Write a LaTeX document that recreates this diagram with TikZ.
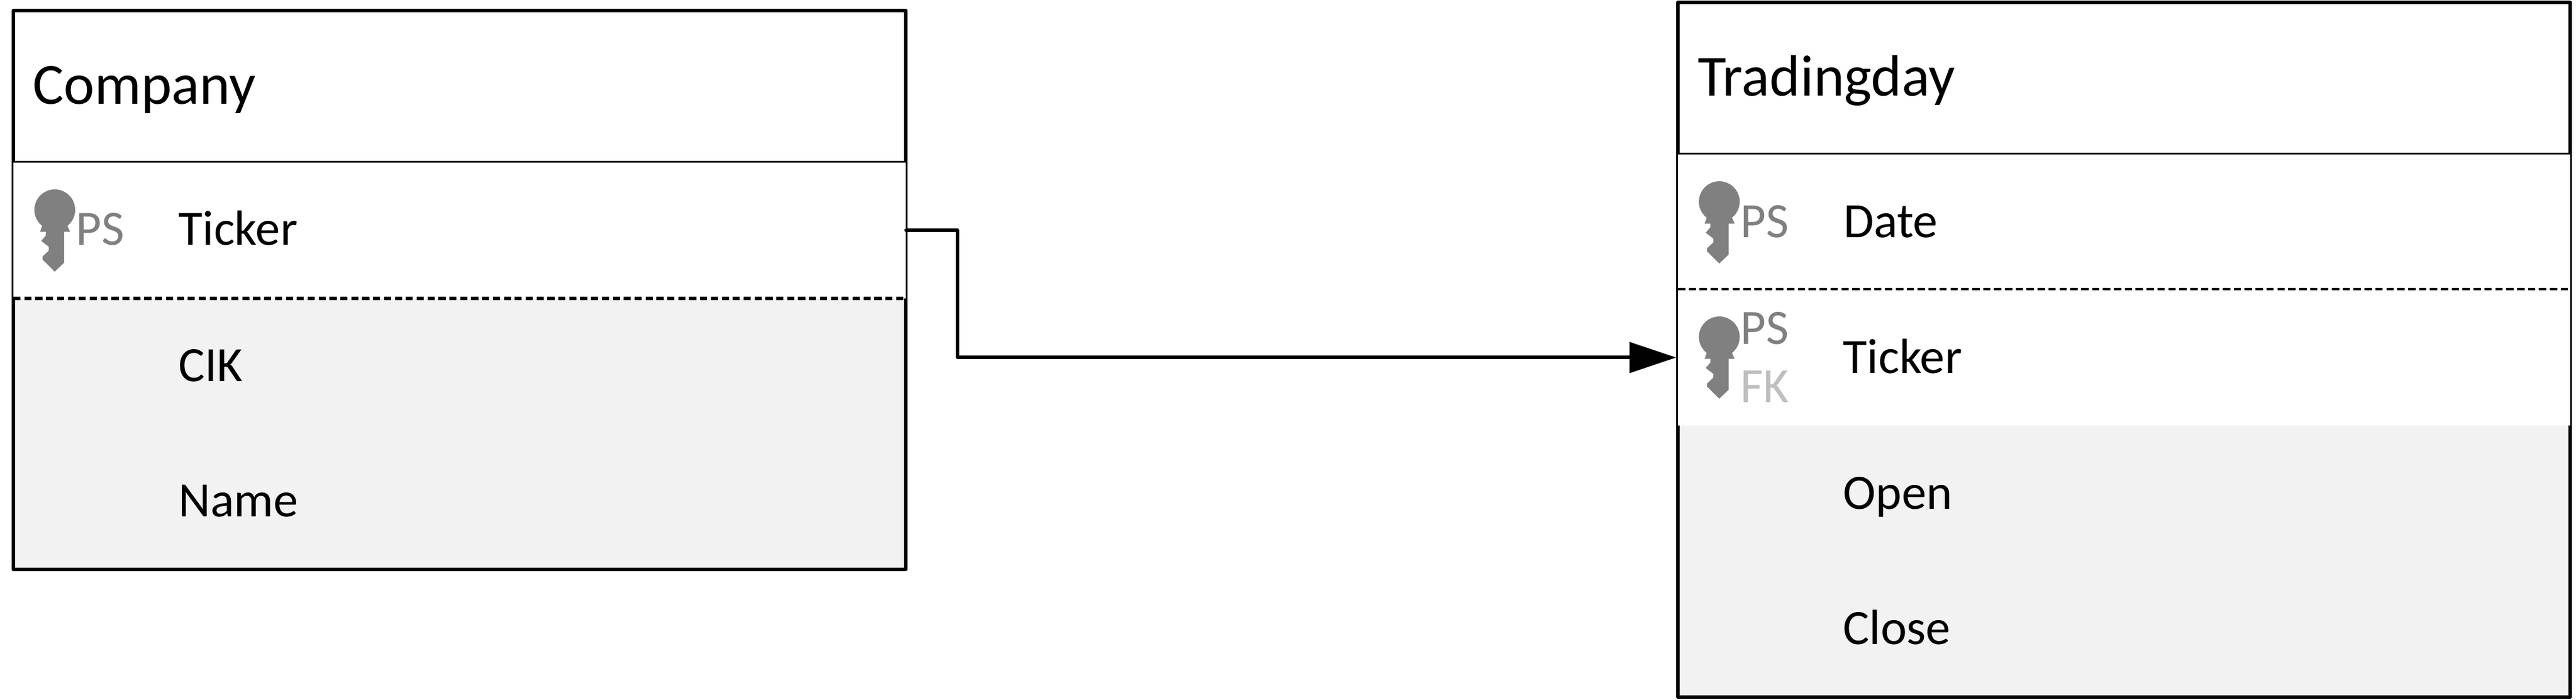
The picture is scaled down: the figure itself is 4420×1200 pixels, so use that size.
\documentclass[tikz,border=0pt]{standalone}
\usepackage{fontspec}
\setmainfont{Carlito}
\usetikzlibrary{arrows.meta}
\definecolor{rowgray}{HTML}{F2F2F2}
\definecolor{keygray}{HTML}{808080}
\definecolor{fkgray}{HTML}{BFBFBF}
\tikzset{
  x=0.5pt,y=-0.5pt,
  frame/.style={draw=black,line width=3pt,line join=round},
  headline/.style={draw=black,line width=1.5pt},
  dashthick/.style={draw=black,line width=3pt,dash pattern=on 6.1pt off 3.25pt},
  dashthin/.style={draw=black,line width=1.75pt,dash pattern=on 6.3pt off 3.05pt},
  rowbox/.style={draw=none,fill=white,inner sep=0pt,anchor=north west,minimum width=765.5pt},
  title/.style={font=\fontsize{50}{50}\selectfont,anchor=base west,inner sep=0pt,text=black},
  field/.style={font=\fontsize{42.4}{42.4}\selectfont,anchor=base west,inner sep=0pt,text=black},
  pslabel/.style={font=\fontsize{42.4}{42.4}\selectfont,anchor=base west,inner sep=0pt,text=keygray},
  fklabel/.style={font=\fontsize{42.4}{42.4}\selectfont,anchor=base west,inner sep=0pt,text=fkgray},
  link/.style={draw=black,line width=3pt,line cap=round,line join=round,shorten >=1.5pt,-{Triangle[length=40pt,width=26pt]}},
  pics/dbkey/.style={code={
    \fill[keygray] (0,0) circle[radius=17.5pt];
    \fill[keygray] (-25.3,37.7) -- (-21,26) -- (21,26) -- (26.3,37.7) -- (16,37.7) -- (16,90.7) -- (0,106) -- (-21,85.3) -- (-21,80) -- (-10.3,70) -- (-10.3,63.3) -- (-23.3,53.3) -- (-15.3,44) -- (-15.3,37.7) -- cycle;
  }}
}
\begin{document}
\begin{tikzpicture}
\useasboundingbox (0,0) rectangle (4420,1200);
% Company
\fill[rowgray] (23,512) rectangle (1554,977);
\draw[frame] (23,18) rectangle (1554,977);
\node[rowbox,minimum height=117pt] (tickL) at (23,278) {};
\draw[headline] (23,277.5) -- (1554,277.5);
\draw[dashthick] (23,512) -- (1551,512);
\node[title] (tcompany) at (56,178) {Company};
\pic at (94,360) {dbkey};
\node[pslabel] (psL) at (130,420) {PS};
\node[field] (fTickerL) at (306,420) {Ticker};
\node[field] (fCik) at (306,654) {CIK};
\node[field] (fName) at (306,886) {Name};
% Tradingday
\fill[rowgray] (2879,730) rectangle (4410,1196);
\draw[frame] (2879,4) rectangle (4410,1196);
\node[rowbox,minimum height=116pt] (dateR) at (2879,264) {};
\node[rowbox,minimum height=117pt] (tickR) at (2879,496) {};
\draw[headline] (2879,263.5) -- (4410,263.5);
\draw[dashthin] (2879,496) -- (4410,496);
\node[title] (ttrading) at (2913,164) {Tradingday};
\pic at (2950,346) {dbkey};
\node[pslabel] (psD) at (2986,407) {PS};
\node[field] (fDate) at (3163,407) {Date};
\pic at (2950,578) {dbkey};
\node[pslabel] (psT) at (2986,590) {PS};
\node[fklabel] (fkT) at (2986,690) {FK};
\node[field] (fTickerR) at (3162,640) {Ticker};
\node[field] (fOpen) at (3162,873) {Open};
\node[field] (fClose) at (3162,1105) {Close};
% connector
\coordinate (bend) at (1643,500);
\draw[link] (tickL.east) -| (bend) |- (tickR.west);
\end{tikzpicture}
\end{document}
